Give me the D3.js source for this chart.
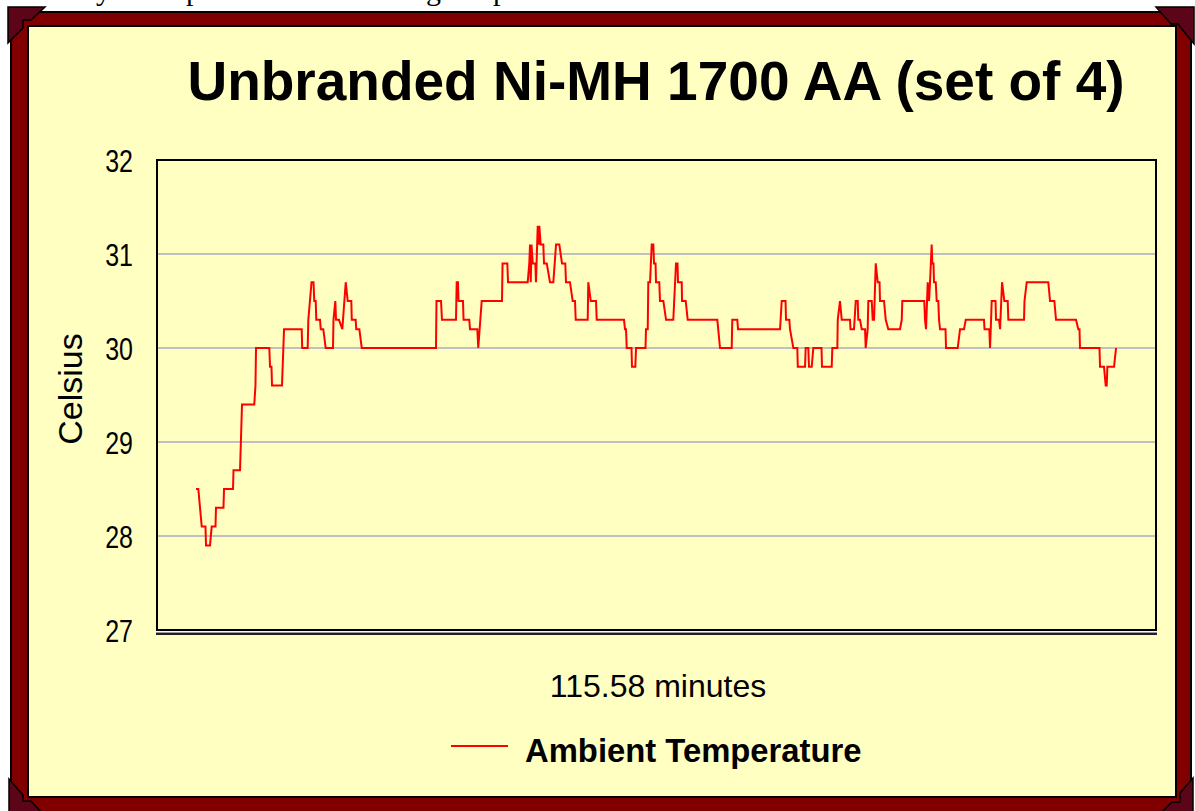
<!DOCTYPE html>
<html>
<head>
<meta charset="utf-8">
<script src="https://cdn.jsdelivr.net/npm/d3@7"></script>
<style>
  html, body { margin: 0; padding: 0; background: #fff; overflow: hidden; }
  svg { display: block; }
</style>
</head>
<body>
<div id="chart"></div>
<script>
const title = 'Unbranded Ni-MH 1700 AA (set of 4)';
const yTitle = 'Celsius';
const xTitle = '115.58 minutes';
const seriesName = 'Ambient Temperature';
const yTicks = [27, 28, 29, 30, 31, 32];

// vertices of the ambient trace, time in minutes from start
const minutes = [
  0, 0.29, 0.72, 1.19, 1.26, 1.76, 1.97, 2.45, 2.51, 3.45, 3.52, 4.65, 4.71, 5.53, 5.78, 7.32,
  7.47, 7.54, 9.21, 9.30, 9.48, 9.55, 10.80, 11.06, 13.28, 13.34, 14.03, 14.11, 14.51, 14.76,
  14.86, 15.04, 15.11, 15.58, 15.67, 15.99, 16.29, 17.21, 17.27, 17.50, 17.59, 17.96, 18.38,
  18.81, 19.06, 19.51, 19.57, 20.06, 20.13, 20.52, 20.82,
  30.15, 30.21, 30.78, 30.90, 32.66, 32.75, 32.91, 32.98, 33.54, 33.61, 34.33, 34.42, 35.34,
  35.46, 35.89, 38.44, 38.51, 39.11, 39.20, 41.67, 41.87, 41.96, 42.05, 42.15, 42.30, 42.63,
  42.71, 42.93, 43.03, 43.13, 43.30, 43.63, 43.72, 44.06, 44.47, 44.89, 45.23, 45.64, 45.98,
  46.39, 46.48, 46.98, 47.32, 47.61, 47.70, 49.21, 49.28, 49.59, 50.25, 50.34,
  53.77, 53.89, 54.02, 54.11, 54.71, 54.77, 55.19, 55.28, 56.47, 56.53, 56.75, 56.82, 57.04,
  57.25, 57.45, 57.54, 57.73, 57.79, 58.20, 58.29, 58.71, 59.05, 59.96, 60.30, 60.49, 60.55,
  61.02, 61.06, 61.52, 61.77, 65.49, 65.83, 67.30, 67.37, 68.00, 68.09,
  73.37, 73.58, 74.06, 74.12, 74.54, 74.62, 75.04, 75.54, 75.60, 76.51, 76.59, 76.92, 77.01,
  77.35, 77.55, 78.58, 78.64, 79.86, 79.94, 80.57, 80.62, 80.90, 81.12, 82.16, 82.22, 82.66,
  82.88, 83.13, 83.20, 83.42, 83.63, 84.05, 84.13, 84.38, 84.46, 84.89, 85.01, 85.18, 85.39,
  85.64, 85.87, 85.93, 86.43, 86.65, 86.97, 88.44, 88.66, 88.73,
  91.49, 91.58, 91.71, 91.92, 92.09, 92.21, 92.42, 92.50, 92.65, 92.71, 92.93, 93.05, 93.25,
  93.34, 93.47, 94.16, 94.22, 95.69, 95.98, 96.48, 96.70, 98.99, 99.06, 99.66, 99.75, 99.84,
  99.96, 100.44, 100.50, 100.88, 101.01, 101.26, 101.55, 101.97, 102.05,
  104.02, 104.08, 104.36, 107.07, 107.29, 107.83, 108.04, 110.55, 110.84, 110.99, 111.05,
  113.50, 113.57, 114.07, 114.28, 114.41, 114.49, 115.33, 115.58
];
const celsius = [
  28.5, 28.5, 28.1, 28.1, 27.9, 27.9, 28.1, 28.1, 28.3, 28.3, 28.5, 28.5, 28.7, 28.7, 29.4, 29.4,
  29.6, 30.0, 30.0, 29.8, 29.8, 29.6, 29.6, 30.2, 30.2, 30.0, 30.0, 30.3, 30.7, 30.7,
  30.5, 30.5, 30.3, 30.3, 30.2, 30.2, 30.0, 30.0, 30.3, 30.5, 30.3, 30.3, 30.2,
  30.7, 30.5, 30.5, 30.3, 30.3, 30.2, 30.2, 30.0,
  30.0, 30.5, 30.5, 30.3, 30.3, 30.7, 30.7, 30.5, 30.5, 30.3, 30.3, 30.2, 30.2,
  30.0, 30.5, 30.5, 30.9, 30.9, 30.7, 30.7, 30.9, 31.1, 30.7, 31.1, 30.9, 30.9,
  30.7, 31.3, 31.1, 31.3, 31.1, 31.1, 30.9, 30.9, 30.7, 30.7, 31.1, 31.1, 30.9,
  30.9, 30.7, 30.7, 30.5, 30.5, 30.3, 30.3, 30.7, 30.5, 30.5, 30.3,
  30.3, 30.2, 30.2, 30.0, 30.0, 29.8, 29.8, 30.0, 30.0, 30.2, 30.2, 30.7, 30.7,
  31.1, 31.1, 30.9, 30.9, 30.7, 30.7, 30.5, 30.5, 30.3, 30.3, 30.9, 30.9, 30.7,
  30.7, 30.5, 30.5, 30.3, 30.3, 30.0, 30.0, 30.3, 30.3, 30.2,
  30.2, 30.5, 30.5, 30.3, 30.3, 30.2, 30.0, 30.0, 29.8, 29.8, 30.0, 30.0, 29.8,
  29.8, 30.0, 30.0, 29.8, 29.8, 30.0, 30.0, 30.3, 30.5, 30.3, 30.3, 30.2, 30.2,
  30.5, 30.5, 30.3, 30.3, 30.2, 30.2, 30.0, 30.2, 30.5, 30.5, 30.3, 30.3, 30.9,
  30.7, 30.7, 30.5, 30.5, 30.3, 30.2, 30.2, 30.3, 30.5,
  30.5, 30.3, 30.2, 30.7, 30.5, 30.7, 31.1, 30.9, 30.9, 30.7, 30.7, 30.5, 30.5,
  30.3, 30.2, 30.2, 30.0, 30.0, 30.2, 30.2, 30.3, 30.3, 30.2, 30.2, 30.0, 30.2,
  30.5, 30.5, 30.3, 30.3, 30.2, 30.7, 30.5, 30.5, 30.3,
  30.3, 30.5, 30.7, 30.7, 30.5, 30.5, 30.3, 30.3, 30.2, 30.2, 30.0,
  30.0, 29.8, 29.8, 29.6, 29.6, 29.8, 29.8, 30.0
];

const W = 1195, H = 811;
const plot = { left: 157, top: 160, right: 1156, bottom: 630 };
const yellow = '#ffffc2';
const maroon = '#800000';
const cornerFill = '#5c0418';

const svg = d3.select('#chart').append('svg').attr('width', W).attr('height', H);

// page text cut off above the frame
const above = svg.append('g').attr('font-family', '"Liberation Serif", "Times New Roman", serif')
  .attr('font-size', 30).attr('fill', '#000');
[['y', 96], ['p', 186], ['g', 426], ['p', 493]].forEach(([ch, x]) => {
  above.append('text').attr('x', x).attr('y', 0).text(ch);
});

// frame
svg.append('rect').attr('x', 11).attr('y', 12).attr('width', 1180).attr('height', 812)
  .attr('fill', maroon).attr('stroke', '#000').attr('stroke-width', 2);
svg.append('rect').attr('x', 28).attr('y', 26).attr('width', 1148).attr('height', 771)
  .attr('fill', yellow).attr('stroke', '#000').attr('stroke-width', 2);

const corners = [
  [[8, 7], [45, 7], [31, 20], [23, 20], [23, 28], [8, 43]],
  [[1156, 7], [1194, 7], [1194, 44], [1181, 28], [1178, 24], [1171, 24]],
  [[9, 779], [23, 795], [23, 801], [31, 801], [41, 812], [9, 812]],
  [[1193, 778], [1193, 812], [1162, 812], [1172, 802], [1180, 802], [1180, 793]]
];
svg.append('g').selectAll('polygon').data(corners).join('polygon')
  .attr('points', d => d.map(p => p.join(',')).join(' '))
  .attr('fill', cornerFill).attr('stroke', '#000').attr('stroke-width', 1.5);

// title
svg.append('text').attr('x', 656).attr('y', 100).attr('text-anchor', 'middle')
  .attr('font-family', '"Liberation Sans", Arial, sans-serif').attr('font-weight', 'bold')
  .attr('font-size', 55).attr('fill', '#000').text(title);

// scales
const x = d3.scaleLinear().domain([-4.9, 120.6]).range([plot.left, plot.right]);
const y = d3.scaleLinear().domain([27, 32]).range([plot.bottom, plot.top]);

// gridlines
svg.append('g').selectAll('line').data(yTicks.filter(t => t > 27 && t < 32)).join('line')
  .attr('x1', plot.left).attr('x2', plot.right)
  .attr('y1', d => y(d)).attr('y2', d => y(d))
  .attr('stroke', '#c0c0c0').attr('stroke-width', 2);

// y axis labels (condensed look)
const yAxis = d3.axisLeft(y).tickValues(yTicks).tickSize(0).tickPadding(0).tickFormat(d3.format('d'));
const yg = svg.append('g').attr('transform', `translate(${plot.left},0)`).call(yAxis);
yg.select('.domain').remove();
yg.selectAll('text')
  .attr('font-family', '"Liberation Sans", Arial, sans-serif').attr('font-size', 32)
  .attr('fill', '#000').attr('x', 0).attr('dy', '0.36em')
  .attr('transform', 'translate(-24,0) scale(0.78,1)');

// plot border
svg.append('path')
  .attr('d', `M${plot.left},${plot.bottom + 1}V${plot.top}H${plot.right}V${plot.bottom + 1}`)
  .attr('fill', 'none').attr('stroke', '#000').attr('stroke-width', 2);
// bottom axis, doubled
svg.append('line').attr('x1', plot.left - 1).attr('x2', plot.right + 1)
  .attr('y1', plot.bottom).attr('y2', plot.bottom).attr('stroke', '#000').attr('stroke-width', 2);
svg.append('line').attr('x1', plot.left - 1).attr('x2', plot.right + 1)
  .attr('y1', plot.bottom + 2.5).attr('y2', plot.bottom + 2.5).attr('stroke', '#9a9a9a').attr('stroke-width', 1);
svg.append('line').attr('x1', plot.left - 1).attr('x2', plot.right + 1)
  .attr('y1', plot.bottom + 4).attr('y2', plot.bottom + 4).attr('stroke', '#222').attr('stroke-width', 2);

// series
const pts = minutes.map((m, i) => [m, celsius[i]]);
const line = d3.line().x(d => x(d[0])).y(d => y(d[1]));
svg.append('path').datum(pts).attr('d', line)
  .attr('fill', 'none').attr('stroke', '#ff0000').attr('stroke-width', 2)
  .attr('stroke-linejoin', 'miter');

// axis titles
svg.append('text').attr('transform', 'translate(82,389) rotate(-90)').attr('text-anchor', 'middle')
  .attr('font-family', '"Liberation Sans", Arial, sans-serif').attr('font-size', 34)
  .attr('fill', '#000').text(yTitle);
svg.append('text').attr('x', 658).attr('y', 697).attr('text-anchor', 'middle')
  .attr('font-family', '"Liberation Sans", Arial, sans-serif').attr('font-size', 32)
  .attr('fill', '#000').text(xTitle);

// legend
const lg = svg.append('g');
lg.append('line').attr('x1', 451).attr('x2', 508).attr('y1', 746).attr('y2', 746)
  .attr('stroke', '#ff0000').attr('stroke-width', 2);
lg.append('text').attr('x', 525).attr('y', 762)
  .attr('font-family', '"Liberation Sans", Arial, sans-serif').attr('font-weight', 'bold')
  .attr('font-size', 32.8).attr('fill', '#000').text(seriesName);
</script>
</body>
</html>
